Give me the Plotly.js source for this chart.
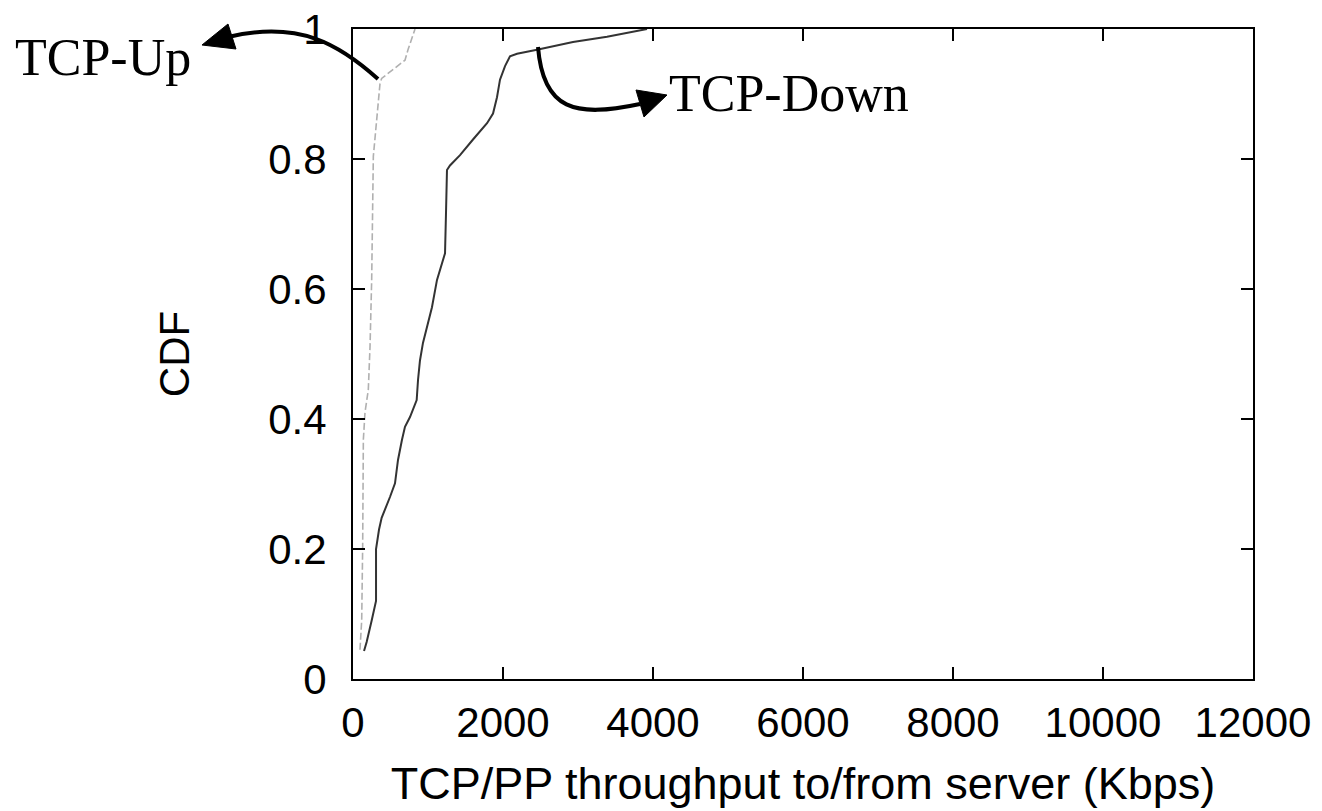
<!DOCTYPE html>
<html>
<head>
<meta charset="utf-8">
<script src="https://cdn.plot.ly/plotly-3.0.1.min.js"></script>
<style>html,body{margin:0;padding:0;background:#fff;}#chart{width:1322px;height:811px;}</style>
</head>
<body>
<div id="chart"></div>
<script>
// TCP-Down CDF (Kbps, cumulative fraction)
const downX = [147, 182, 249, 307, 307, 347, 382, 427, 493, 560, 600, 653, 693, 760, 849, 867, 893, 933, 987, 1053, 1120, 1187, 1227, 1240, 1253, 1293, 1427, 1600, 1787, 1867, 1920, 1960, 2027, 2093, 2187, 2453, 2933, 3387, 3827, 3920];
const downY = [0.043, 0.057, 0.09, 0.12, 0.2, 0.23, 0.248, 0.26, 0.28, 0.301, 0.337, 0.368, 0.388, 0.403, 0.429, 0.46, 0.49, 0.517, 0.542, 0.572, 0.614, 0.64, 0.655, 0.717, 0.783, 0.79, 0.806, 0.83, 0.855, 0.87, 0.895, 0.922, 0.943, 0.958, 0.962, 0.968, 0.98, 0.988, 0.997, 1.0];
// TCP-Up CDF
const upX = [93, 116, 129, 138, 160, 204, 227, 249, 271, 293, 316, 338, 360, 382, 533, 693, 733, 787, 827];
const upY = [0.045, 0.09, 0.204, 0.368, 0.41, 0.445, 0.511, 0.614, 0.804, 0.83, 0.86, 0.886, 0.916, 0.924, 0.937, 0.952, 0.968, 0.988, 1.0];

const xTicks = [0, 2000, 4000, 6000, 8000, 10000, 12000];
const yTicks = [0, 0.2, 0.4, 0.6, 0.8, 1];
const labelUp = 'TCP-Up';
const labelDown = 'TCP-Down';
const xTitle = 'TCP/PP throughput to/from server (Kbps)';
const yTitle = 'CDF';

// plot area in pixels
const L = 353, R = 1253, T = 29, B = 679;
const W = 1322, H = 811;
const px = x => (x - L) / (R - L);
const py = y => (B - y) / (B - T);
function pathPx(cmds) {
  return cmds.map(c => {
    const l = c[0]; const out = [];
    for (let i = 1; i < c.length; i += 2) out.push(px(c[i]).toFixed(5) + ',' + py(c[i+1]).toFixed(5));
    return l + ' ' + out.join(' ');
  }).join(' ');
}

const traces = [
  {x: upX, y: upY, type: 'scatter', mode: 'lines', name: labelUp,
   line: {color: '#b0b0b0', width: 1.6, dash: '7px,3px'}, showlegend: false},
  {x: downX, y: downY, type: 'scatter', mode: 'lines', name: labelDown,
   line: {color: '#333333', width: 2}, showlegend: false}
];

const axisCommon = {
  showline: true, mirror: 'ticks', linecolor: '#000', linewidth: 2,
  ticks: 'inside', ticklen: 12, tickwidth: 1.5, tickcolor: '#000',
  showgrid: false, zeroline: false,
  tickfont: {family: 'Liberation Sans, Arial, sans-serif', size: 42, color: '#000'}
};

const layout = {
  width: W, height: H,
  margin: {l: L, r: W - R, t: T, b: H - B},
  paper_bgcolor: '#fff', plot_bgcolor: '#fff',
  xaxis: Object.assign({}, axisCommon, {
    range: [0, 12000], tickvals: xTicks, ticktext: xTicks.map(String),
    ticklabelstandoff: 6,
    title: {text: xTitle, font: {family: 'Liberation Sans, Arial, sans-serif', size: 45, color: '#000'}, standoff: 22}
  }),
  yaxis: Object.assign({}, axisCommon, {
    range: [0, 1], tickvals: yTicks, ticktext: yTicks.map(String),
    ticklabelstandoff: 16,
    title: {text: yTitle, font: {family: 'Liberation Sans, Arial, sans-serif', size: 42, color: '#000'}, standoff: 66}
  }),
  shapes: [
    // TCP-Up curved arrow
    {type: 'path', xref: 'paper', yref: 'paper',
     path: pathPx([['M', 378, 79], ['C', 340, 45, 300, 20, 228, 37]]),
     line: {color: '#000', width: 4}},
    {type: 'path', xref: 'paper', yref: 'paper',
     path: pathPx([['M', 202, 45], ['L', 228, 24], ['L', 236, 49]]) + ' Z',
     fillcolor: '#000', line: {color: '#000', width: 1}},
    // TCP-Down curved arrow
    {type: 'path', xref: 'paper', yref: 'paper',
     path: pathPx([['M', 538, 47], ['C', 543, 110, 575, 118, 640, 104]]),
     line: {color: '#000', width: 4}},
    {type: 'path', xref: 'paper', yref: 'paper',
     path: pathPx([['M', 667, 95], ['L', 636, 90], ['L', 644, 117]]) + ' Z',
     fillcolor: '#000', line: {color: '#000', width: 1}}
  ],
  annotations: [
    {text: labelUp, xref: 'paper', yref: 'paper', x: px(13), y: py(57), xanchor: 'left', yanchor: 'middle',
     showarrow: false, font: {family: 'Liberation Serif, Times New Roman, serif', size: 52, color: '#000'}},
    {text: labelDown, xref: 'paper', yref: 'paper', x: px(667), y: py(93), xanchor: 'left', yanchor: 'middle',
     showarrow: false, font: {family: 'Liberation Serif, Times New Roman, serif', size: 52, color: '#000'}}
  ]
};

Plotly.newPlot('chart', traces, layout, {staticPlot: true, displayModeBar: false});
</script>
</body>
</html>
